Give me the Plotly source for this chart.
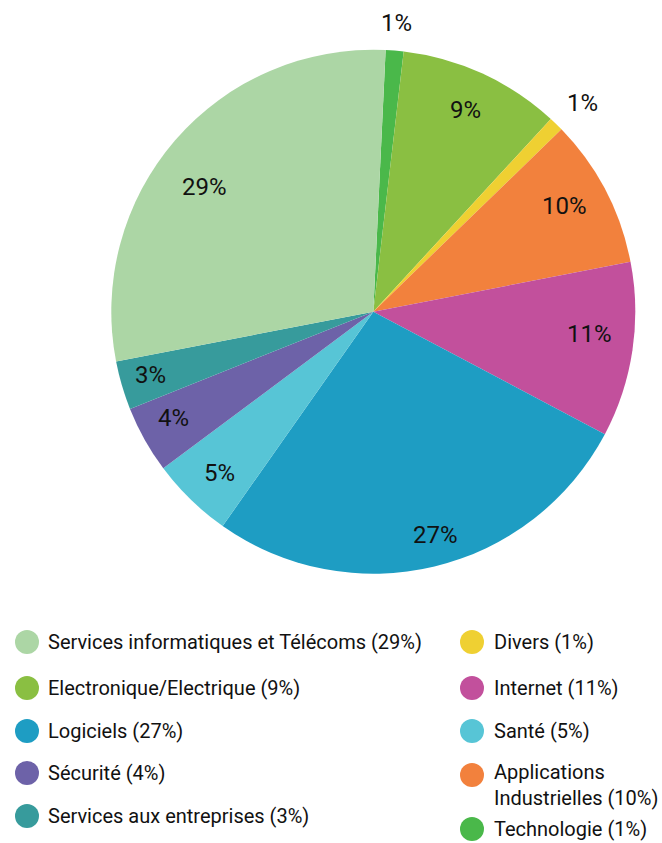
import math
import plotly.graph_objects as go

# ---- data (clockwise from top) ----
categories = ["Technologie", "Electronique/Electrique", "Divers",
              "Applications Industrielles", "Internet", "Logiciels", "Santé",
              "Sécurité", "Services aux entreprises",
              "Services informatiques et Télécoms"]
shares = [1.1, 10.0, 0.9, 9.2, 10.8, 27.0, 5.05, 4.15, 3.0, 28.8]
pct_labels = ["1%", "9%", "1%", "10%", "11%", "27%", "5%", "4%", "3%", "29%"]
colors = ["#4ab84a", "#8abf42", "#efd032", "#f2813d", "#c2509c", "#1e9dc3",
          "#57c5d6", "#6d62a8", "#379b9c", "#acd6a5"]

legend_col1 = ["Services informatiques et Télécoms (29%)",
               "Electronique/Electrique (9%)", "Logiciels (27%)",
               "Sécurité (4%)", "Services aux entreprises (3%)"]
legend_col1_colors = ["#acd6a5", "#8abf42", "#1e9dc3", "#6d62a8", "#379b9c"]
legend_col2 = ["Divers (1%)", "Internet (11%)", "Santé (5%)",
               "Applications<br>Industrielles (10%)", "Technologie (1%)"]
legend_col2_colors = ["#efd032", "#c2509c", "#57c5d6", "#f2813d", "#4ab84a"]

# ---- layout constants ----
W, H = 662, 843
CX, CY, R = 373.3, 311.7, 262.0
ROTATION = 2.7
FONT = "Roboto, Liberation Sans, Arial, sans-serif"
label_radius = [1.104, 0.846, 1.127, 0.834, 0.829, 0.884, 0.852, 0.865, 0.886, 0.80]
label_angle_shift = [0, -0.2, 0.8, -1.5, -2.5, -2.0, -0.6, 1.2, 0.5, -4.3]


def px(x):
    return x / W


def py(y):
    return 1 - y / H


fig = go.Figure()
fig.add_trace(go.Pie(
    labels=categories, values=shares, sort=False, direction="clockwise",
    rotation=ROTATION, marker=dict(colors=colors, line=dict(width=0)),
    textinfo="none", showlegend=False, hoverinfo="label+percent",
    domain=dict(x=[px(CX - R), px(CX + R)], y=[py(CY + R), py(CY - R)]),
))

annotations = []
total = sum(shares)
cum = 0.0
for i, v in enumerate(shares):
    mid = ROTATION + (cum + v / 2) / total * 360 + label_angle_shift[i]
    cum += v
    rr = label_radius[i] * R
    x = CX + rr * math.sin(math.radians(mid))
    y = CY - rr * math.cos(math.radians(mid))
    annotations.append(dict(x=px(x), y=py(y), xref="paper", yref="paper",
                            text=pct_labels[i], showarrow=False,
                            xanchor="center", yanchor="middle",
                            font=dict(family=FONT, size=24, color="#111111")))

shapes = []
col1_rows = [642, 688, 731, 773, 816]
col2_rows = [642, 688, 731, 775, 829]


def legend_item(cx, tx, y, text, color):
    shapes.append(dict(type="circle", xref="paper", yref="paper",
                       xsizemode="pixel", ysizemode="pixel",
                       xanchor=px(cx), yanchor=py(y),
                       x0=-12, x1=12, y0=-12, y1=12,
                       fillcolor=color, line=dict(width=0)))
    n = text.count("<br>")
    ty = y + n * 10  # centre a two-line label between its lines
    annotations.append(dict(x=px(tx), y=py(ty), xref="paper",
                            yref="paper", text=text, showarrow=False,
                            xanchor="left", yanchor="middle", align="left",
                            font=dict(family=FONT, size=20, color="#111111")))


for t, c, y in zip(legend_col1, legend_col1_colors, col1_rows):
    legend_item(27, 46, y, t, c)
for t, c, y in zip(legend_col2, legend_col2_colors, col2_rows):
    legend_item(472, 492, y, t, c)

fig.update_layout(width=W, height=H, margin=dict(l=0, r=0, t=0, b=0),
                  paper_bgcolor="white", plot_bgcolor="white",
                  annotations=annotations, shapes=shapes)

fig.write_html("out.html")
